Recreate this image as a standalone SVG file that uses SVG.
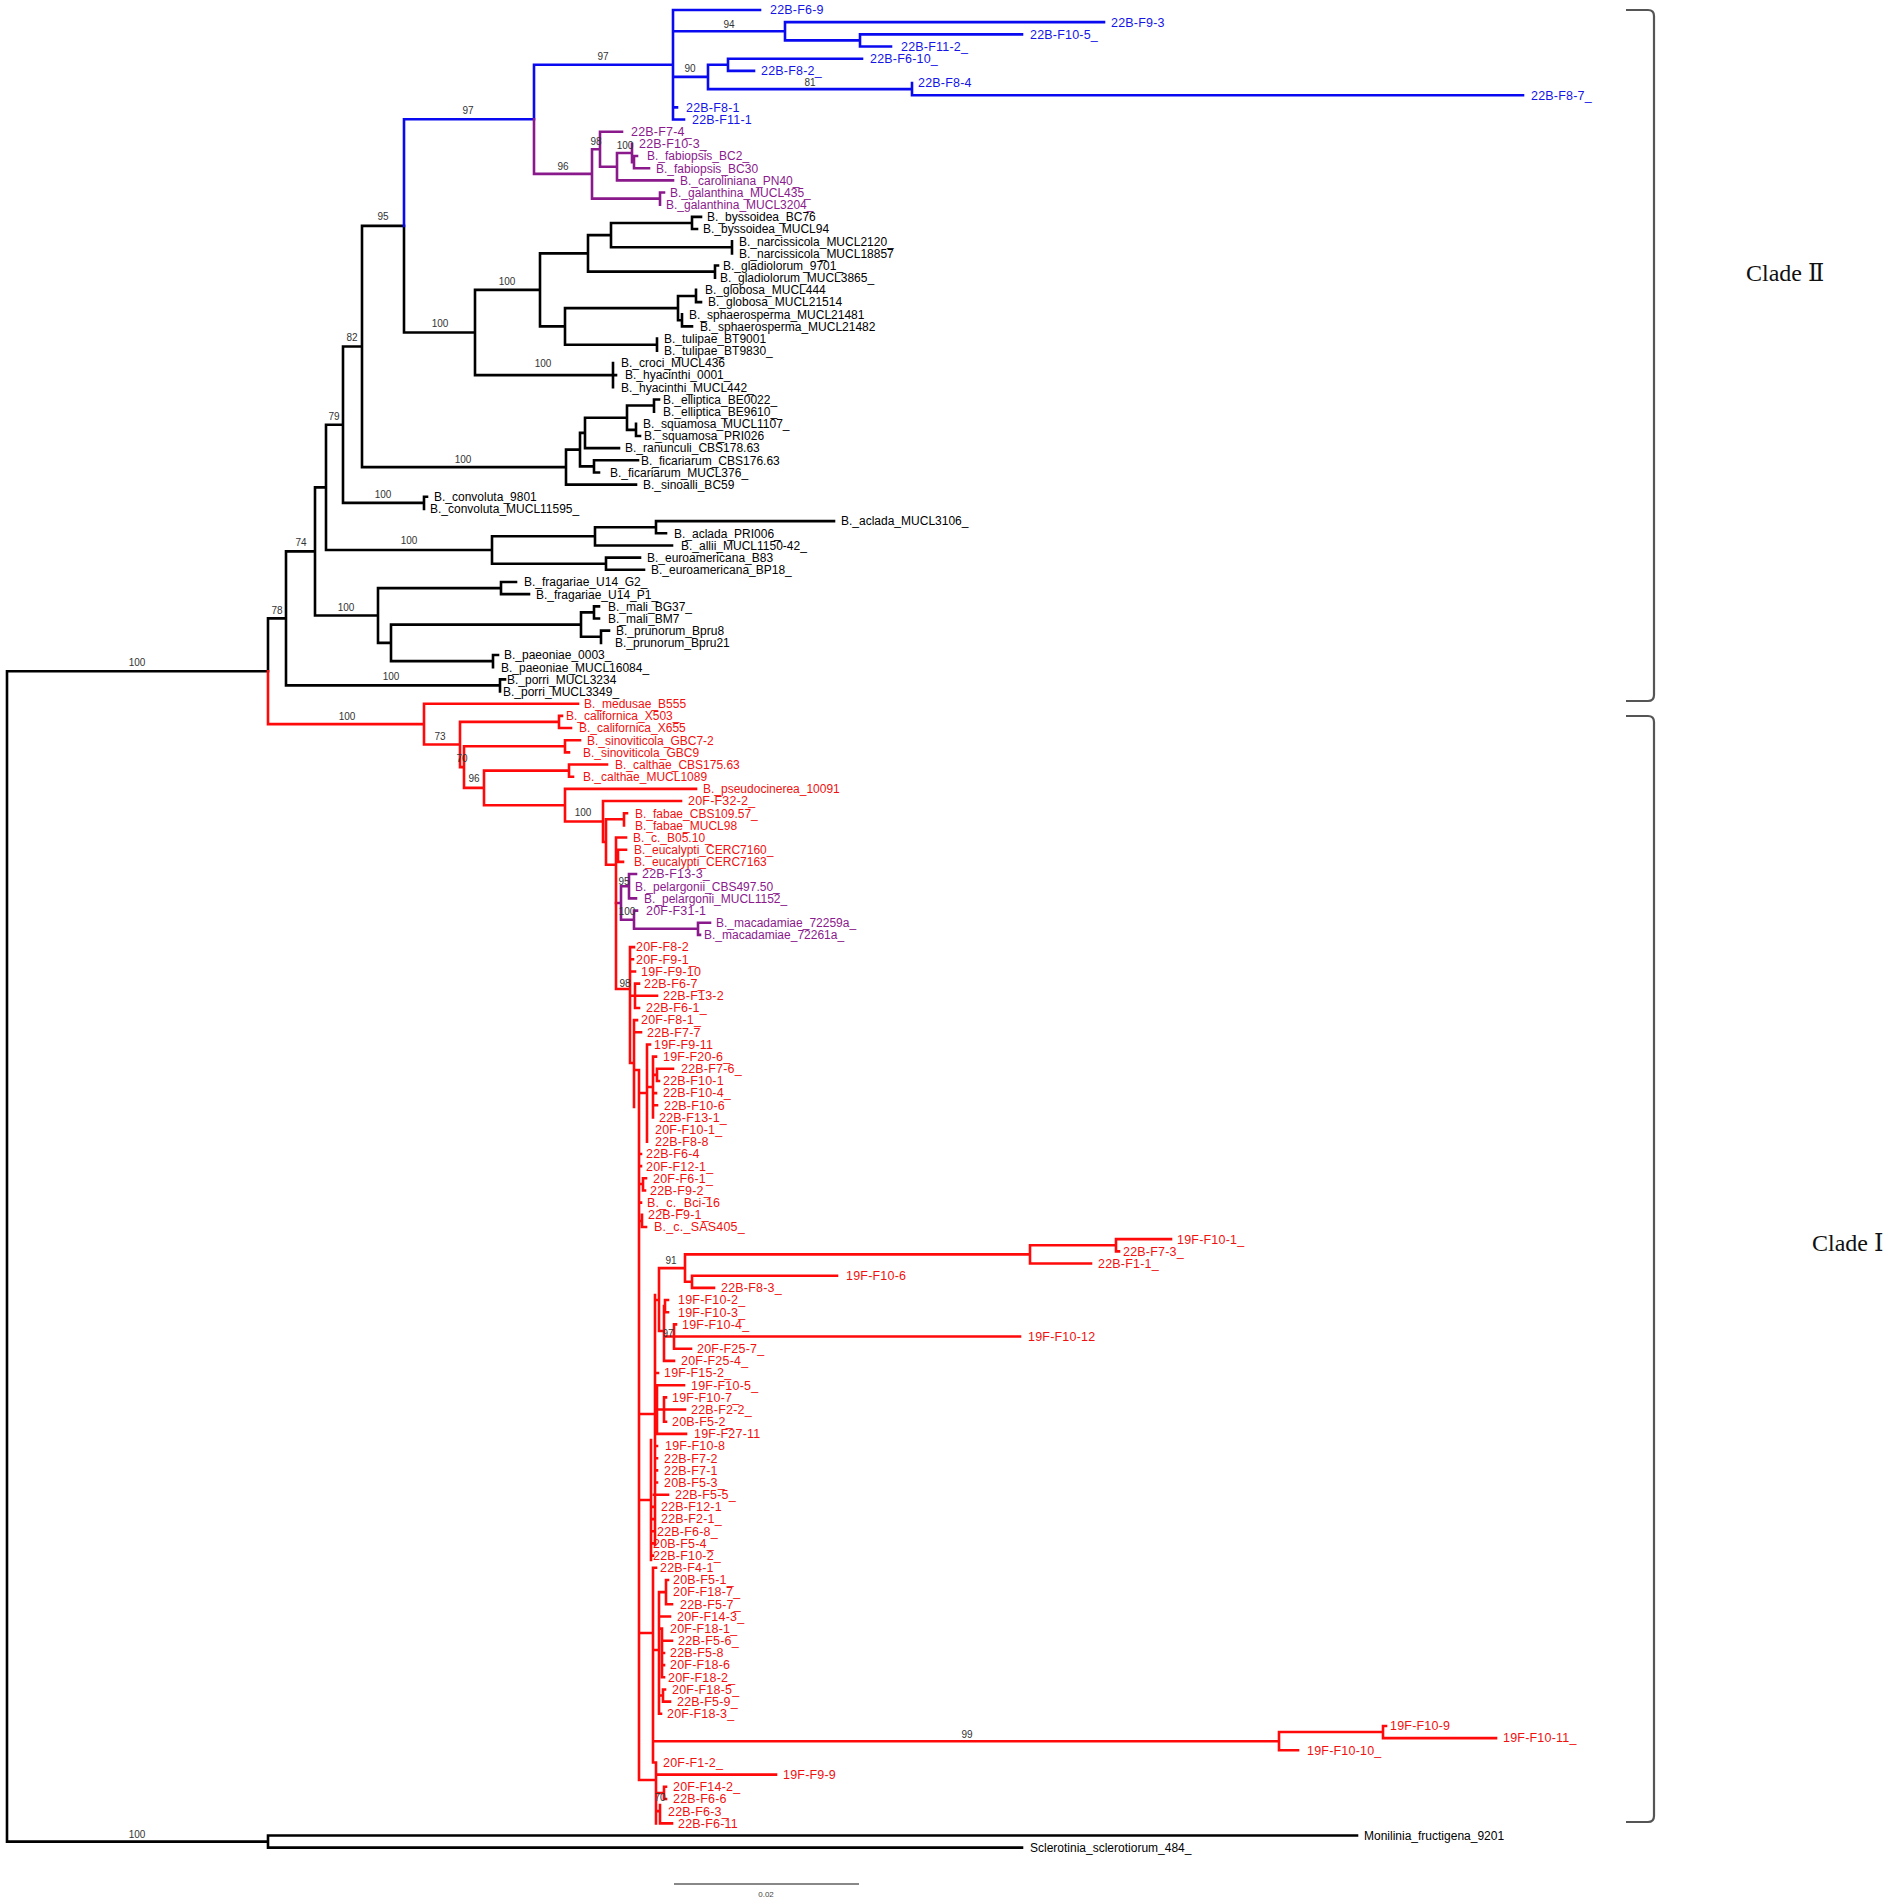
<svg xmlns="http://www.w3.org/2000/svg" width="1901" height="1902" viewBox="0 0 1901 1902">
<style>
.ln{fill:none;stroke-width:2.6;stroke-linecap:square;stroke-linejoin:miter}
.k{stroke:#000}.bl{stroke:#0a0af0}.pu{stroke:#8a1a8c}.rd{stroke:#ff0a0a}
text{font-family:"Liberation Sans",Arial,sans-serif}
.s{font-size:12px}
.c{font-size:12.5px;letter-spacing:.2px}
.tk{fill:#000}.tb{fill:#1414e6}.tp{fill:#8a1a8c}.tr{fill:#f01010}
.n{font-size:10px;fill:#333;text-anchor:middle}
.br{fill:none;stroke:#555;stroke-width:2.2}
.cl{font-family:"Liberation Serif","DejaVu Serif","Noto Sans CJK SC",serif;font-size:24px;fill:#111}
</style>
<rect width="1901" height="1902" fill="#fff"/>
<g id="connectors">
<path class="ln k" d="M7,671.25V1841.6 M7,671.25H268 M7,1841.6H268 M268,1835.5V1847.67 M268,1835.5H1357 M268,1847.67H1022 M268,618.4V671.25 M268,618.4H286 M286,551.4V685.4 M286,685.4H500 M500,679.35V691.52 M500,679.35H505 M286,551.4H315 M315,487.4V615.5 M315,615.5H378 M315,487.4H326 M326,424.7V550 M326,550H492 M326,424.7H343 M343,346.5V502.9 M343,502.9H424 M424,496.8V508.97 M424,496.8H427 M343,346.5H362 M362,225.9V467.1 M362,467.1H566 M362,225.9H404 M404,225.9V332.5H475 M475,289.9V375.1 M475,289.9H540 M475,375.1H613 M540,253.4V326.4 M540,253.4H588 M540,326.4H565 M588,235.15V271.66 M588,235.15H611 M588,271.66H715 M611,223V247.3 M611,223H692 M611,247.3H732 M692,216.89V229.06 M692,216.89H701 M692,229.06H697 M732,241.23V253.4 M715,265.57V277.74 M715,265.57H718 M565,308.15V344.7 M565,308.15H678 M565,344.7H657 M678,296V320.3 M678,296H696 M678,320.3H682 M696,289.91V302.08 M696,302.08H701 M682,314.25V326.42 M682,326.42H692 M657,338.59V350.76 M613,362.93V387.27 M613,375.1H616 M566,449.6V484.63 M566,449.6H580 M566,484.63H636 M580,432.9V466.4 M580,432.9H585 M580,466.4H594 M585,417.7V448.12 M585,417.7H627 M585,448.12H619 M627,405.5V429.9 M627,405.5H654 M627,429.9H636 M654,399.44V411.61 M654,399.44H659 M636,423.78V435.95 M636,435.95H640 M594,460.29V472.46 M594,460.29H638 M594,472.46H599 M492,536.3V563.7 M492,536.3H595 M492,563.7H606 M595,527.2V545.48 M595,527.2H656 M595,545.48H672 M656,521.14V533.31 M656,521.14H834 M656,533.31H666 M606,557.65V569.82 M606,557.65H640 M606,569.82H644 M378,588.1V642.85 M378,588.1H501 M378,642.85H391 M501,581.99V594.16 M501,581.99H516 M501,594.16H529 M391,624.6V661.1 M391,624.6H581 M391,661.1H493 M581,612.4V636.8 M581,612.4H594 M581,636.8H601 M594,606.33V618.5 M594,606.33H599 M594,618.5H599 M601,630.67V642.84 M601,630.67H609 M493,655.01V667.18 M493,655.01H498"/>
<path class="ln bl" d="M404,225.9V119.3H534 M534,119.3V64.77H673 M673,10V119.53 M673,10H760 M673,31.3H785 M673,76.9H708 M673,107.36H677 M673,119.53H684 M785,22.17V40.4 M785,22.17H1104 M785,40.4H860 M860,34.34V46.51 M860,34.34H1022 M860,46.51H891 M708,64.8V89.1 M708,64.8H728 M708,89.1H912 M728,58.68V70.85 M728,58.68H862 M728,70.85H754 M912,83.02V95.19 M912,95.19H1523"/>
<path class="ln pu" d="M534,119.3V173.9H592 M592,149.2V198.6 M592,149.2H600 M592,198.6H660 M600,131.7V166.7 M600,131.7H622 M600,166.7H617 M617,153V180.38 M617,153H632 M617,180.38H673 M632,143.87V162.1H634 M634,156.04V168.21 M634,156.04H637 M634,168.21H649 M660,192.55V204.72 M660,192.55H664 M616,903H621 M621,886.2V919.7 M621,886.2H629 M629,874.07V898.41 M629,874.07H636 M629,898.41H636 M621,919.7H634 M634,910.58V928.8 M634,910.58H637 M634,928.8H698 M698,922.75V934.92 M698,922.75H710 M698,934.92H700"/>
<path class="ln rd" d="M268,671.25V724.1H424 M424,703.69V744.5 M424,703.69H578 M424,744.5H460 M460,721.9V767.1 M460,721.9H559 M460,767.1H464 M559,715.86V728.03 M559,715.86H562 M559,728.03H571 M464,746.3V787.9 M464,746.3H565 M464,787.9H484 M565,740.2V752.37 M565,740.2H580 M565,752.37H569 M484,770.6V805.2 M484,770.6H569 M484,805.2H565 M569,764.54V776.71 M569,764.54H607 M569,776.71H573 M565,788.88V821.5 M565,788.88H696 M565,821.5H603 M603,801.05V842 M603,801.05H681 M603,842H606 M606,819.3V864.7 M606,819.3H624 M606,864.7H616 M624,813.22V825.39 M624,813.22H627 M616,837.56V989 M616,837.56H626 M616,855.8H618 M618,849.73V861.9 M618,849.73H626 M618,861.9H623 M616,989H630 M630,947.09V1063 M630,947.09H634 M630,959.26H633 M630,971.43H635 M635,983.6V1007.94 M635,983.6H639 M630,995.77H657 M635,1007.94H639 M630,1063H634 M634,1020.11V1107 M634,1020.11H637 M634,1032.28H641 M634,1070H639 M639,1070V1780 M639,1093H647 M647,1044.45V1141.81 M647,1044.45H650 M647,1087H653 M653,1056.62V1117.47 M653,1056.62H656 M653,1093.13H656 M653,1105.3H657 M653,1074.9H657 M657,1068.79V1080.96 M657,1068.79H673 M657,1080.96H659 M639,1153.98H641 M639,1166.15H641 M639,1184H643 M643,1178.32V1190.49 M643,1178.32H646 M643,1190.49H645 M639,1202.66H641 M639,1221H642 M642,1214.83V1227 M642,1227H646 M639,1414H655 M655,1295V1545 M655,1300H659 M659,1268.1V1331 M659,1268.1H685 M685,1254.4V1281.8 M685,1254.4H1030 M685,1281.8H692 M1030,1245.3V1263.51 M1030,1245.3H1116 M1030,1263.51H1091 M1116,1239.17V1251.34 M1116,1239.17H1171 M1116,1251.34H1119 M692,1275.68V1287.85 M692,1275.68H837 M692,1287.85H714 M659,1331H664 M664,1306.1V1360.87 M664,1306.1H665 M665,1300.02V1312.19 M665,1300.02H668 M665,1312.19H668 M664,1336.53H674 M674,1324.36V1348.7 M674,1324.36H676 M674,1336.53H1020 M674,1348.7H691 M664,1360.87H674 M655,1373.04H658 M657,1385.21V1433.89 M657,1385.21H684 M657,1433.89H686 M664,1397.38V1421.72 M664,1397.38H666 M657,1409.55H685 M664,1421.72H666 M655,1446.06H657 M655,1458.23H657 M655,1470.4H657 M655,1482.57H657 M639,1500H651 M651,1440V1560 M654,1494.74H668 M651,1506.91H655 M651,1519.08H655 M651,1531.25H654 M651,1543.42H653 M651,1555.59H653 M639,1633H653 M653,1567.76V1762.48 M653,1567.76H656 M653,1650H659 M659,1592.1V1713.8 M659,1592.1H666 M666,1579.93V1604.27 M666,1579.93H668 M666,1604.27H672 M659,1616.44H670 M659,1628.61H662 M662,1628.61V1677.29 M662,1640.78H672 M662,1652.95H664 M662,1665.12H664 M662,1677.29H664 M659,1695.5H663 M663,1689.46V1701.63 M663,1689.46H665 M663,1701.63H670 M659,1713.8H661 M653,1741.2H1279 M1279,1732.06V1750.31 M1279,1732.06H1383 M1279,1750.31H1298 M1383,1725.97V1738.14 M1383,1725.97H1386 M1383,1738.14H1496 M639,1780H656 M653,1762.48H656 M656,1762.48V1823.33 M656,1774.65H776 M656,1793H664 M664,1786.82V1798.99 M664,1786.82H666 M664,1798.99H666 M656,1811.16H660 M660,1805V1823.33 M660,1823.33H672"/>
</g>
<g id="support-values">
<text class="n" x="603" y="60">97</text><text class="n" x="468" y="114">97</text><text class="n" x="729" y="28">94</text><text class="n" x="690" y="72">90</text><text class="n" x="810" y="86">81</text>
<text class="n" x="563" y="170">96</text><text class="n" x="596" y="145">98</text><text class="n" x="625" y="149">100</text>
<text class="n" x="383" y="220">95</text><text class="n" x="440" y="327">100</text><text class="n" x="507" y="285">100</text><text class="n" x="543" y="367">100</text><text class="n" x="352" y="341">82</text><text class="n" x="334" y="420">79</text><text class="n" x="301" y="546">74</text><text class="n" x="277" y="614">78</text><text class="n" x="463" y="463">100</text><text class="n" x="383" y="498">100</text><text class="n" x="409" y="544">100</text><text class="n" x="346" y="611">100</text><text class="n" x="391" y="680">100</text><text class="n" x="137" y="666">100</text>
<text class="n" x="347" y="720">100</text><text class="n" x="440" y="740">73</text><text class="n" x="462" y="762">70</text><text class="n" x="474" y="782">96</text><text class="n" x="583" y="816">100</text><text class="n" x="624" y="885">95</text><text class="n" x="627" y="915">100</text><text class="n" x="625" y="987">98</text><text class="n" x="671" y="1264">91</text><text class="n" x="668" y="1337">97</text><text class="n" x="967" y="1738">99</text><text class="n" x="660" y="1801">70</text><text class="n" x="137" y="1838">100</text>
</g>
<g id="leaves">
<g id="L1"><text class="c tb" x="770" y="14.3">22B-F6-9</text></g>
<g id="L2"><text class="c tb" x="1111" y="26.5">22B-F9-3</text></g>
<g id="L3"><text class="c tb" x="1030" y="38.6">22B-F10-5_</text></g>
<g id="L4"><text class="c tb" x="901" y="50.8">22B-F11-2_</text></g>
<g id="L5"><text class="c tb" x="870" y="63">22B-F6-10_</text></g>
<g id="L6"><text class="c tb" x="761" y="75.2">22B-F8-2_</text></g>
<g id="L7"><text class="c tb" x="918" y="87.3">22B-F8-4</text></g>
<g id="L8"><text class="c tb" x="1531" y="99.5">22B-F8-7_</text></g>
<g id="L9"><text class="c tb" x="686" y="111.7">22B-F8-1</text></g>
<g id="L10"><text class="c tb" x="692" y="123.8">22B-F11-1</text></g>
<g id="L11"><text class="c tp" x="631" y="136">22B-F7-4_</text></g>
<g id="L12"><text class="c tp" x="639" y="148.2">22B-F10-3_</text></g>
<g id="L13"><text class="s tp" x="647" y="160.3">B._fabiopsis_BC2_</text></g>
<g id="L14"><text class="s tp" x="656" y="172.5">B._fabiopsis_BC30</text></g>
<g id="L15"><text class="s tp" x="680" y="184.7">B._caroliniana_PN40_</text></g>
<g id="L16"><text class="s tp" x="670" y="196.9">B._galanthina_MUCL435_</text></g>
<g id="L17"><text class="s tp" x="666" y="209">B._galanthina_MUCL3204_</text></g>
<g id="L18"><text class="s tk" x="707" y="221.2">B._byssoidea_BC76</text></g>
<g id="L19"><text class="s tk" x="703" y="233.4">B._byssoidea_MUCL94</text></g>
<g id="L20"><text class="s tk" x="739" y="245.5">B._narcissicola_MUCL2120_</text></g>
<g id="L21"><text class="s tk" x="739" y="257.7">B._narcissicola_MUCL18857</text></g>
<g id="L22"><text class="s tk" x="723" y="269.9">B._gladiolorum_9701_</text></g>
<g id="L23"><text class="s tk" x="720" y="282">B._gladiolorum_MUCL3865_</text></g>
<g id="L24"><text class="s tk" x="705" y="294.2">B._globosa_MUCL444</text></g>
<g id="L25"><text class="s tk" x="708" y="306.4">B._globosa_MUCL21514</text></g>
<g id="L26"><text class="s tk" x="689" y="318.6">B._sphaerosperma_MUCL21481</text></g>
<g id="L27"><text class="s tk" x="700" y="330.7">B._sphaerosperma_MUCL21482</text></g>
<g id="L28"><text class="s tk" x="664" y="342.9">B._tulipae_BT9001</text></g>
<g id="L29"><text class="s tk" x="664" y="355.1">B._tulipae_BT9830_</text></g>
<g id="L30"><text class="s tk" x="621" y="367.2">B._croci_MUCL436</text></g>
<g id="L31"><text class="s tk" x="625" y="379.4">B._hyacinthi_0001_</text></g>
<g id="L32"><text class="s tk" x="621" y="391.6">B._hyacinthi_MUCL442_</text></g>
<g id="L33"><text class="s tk" x="663" y="403.7">B._elliptica_BE0022_</text></g>
<g id="L34"><text class="s tk" x="663" y="415.9">B._elliptica_BE9610_</text></g>
<g id="L35"><text class="s tk" x="643" y="428.1">B._squamosa_MUCL1107_</text></g>
<g id="L36"><text class="s tk" x="644" y="440.3">B._squamosa_PRI026</text></g>
<g id="L37"><text class="s tk" x="625" y="452.4">B._ranunculi_CBS178.63</text></g>
<g id="L38"><text class="s tk" x="641" y="464.6">B._ficariarum_CBS176.63</text></g>
<g id="L39"><text class="s tk" x="610" y="476.8">B._ficariarum_MUCL376_</text></g>
<g id="L40"><text class="s tk" x="643" y="488.9">B._sinoalli_BC59</text></g>
<g id="L41"><text class="s tk" x="434" y="501.1">B._convoluta_9801</text></g>
<g id="L42"><text class="s tk" x="430" y="513.3">B._convoluta_MUCL11595_</text></g>
<g id="L43"><text class="s tk" x="841" y="525.4">B._aclada_MUCL3106_</text></g>
<g id="L44"><text class="s tk" x="674" y="537.6">B._aclada_PRI006_</text></g>
<g id="L45"><text class="s tk" x="681" y="549.8">B._allii_MUCL1150-42_</text></g>
<g id="L46"><text class="s tk" x="647" y="562">B._euroamericana_B83</text></g>
<g id="L47"><text class="s tk" x="651" y="574.1">B._euroamericana_BP18_</text></g>
<g id="L48"><text class="s tk" x="524" y="586.3">B._fragariae_U14_G2_</text></g>
<g id="L49"><text class="s tk" x="536" y="598.5">B._fragariae_U14_P1_</text></g>
<g id="L50"><text class="s tk" x="608" y="610.6">B._mali_BG37_</text></g>
<g id="L51"><text class="s tk" x="608" y="622.8">B._mali_BM7</text></g>
<g id="L52"><text class="s tk" x="616" y="635">B._prunorum_Bpru8</text></g>
<g id="L53"><text class="s tk" x="615" y="647.1">B._prunorum_Bpru21</text></g>
<g id="L54"><text class="s tk" x="504" y="659.3">B._paeoniae_0003_</text></g>
<g id="L55"><text class="s tk" x="501" y="671.5">B._paeoniae_MUCL16084_</text></g>
<g id="L56"><text class="s tk" x="507" y="683.7">B._porri_MUCL3234</text></g>
<g id="L57"><text class="s tk" x="503" y="695.8">B._porri_MUCL3349_</text></g>
<g id="L58"><text class="s tr" x="584" y="708">B._medusae_B555</text></g>
<g id="L59"><text class="s tr" x="566" y="720.2">B._californica_X503_</text></g>
<g id="L60"><text class="s tr" x="579" y="732.3">B._californica_X655</text></g>
<g id="L61"><text class="s tr" x="587" y="744.5">B._sinoviticola_GBC7-2</text></g>
<g id="L62"><text class="s tr" x="583" y="756.7">B._sinoviticola_GBC9</text></g>
<g id="L63"><text class="s tr" x="615" y="768.8">B._calthae_CBS175.63</text></g>
<g id="L64"><text class="s tr" x="583" y="781">B._calthae_MUCL1089</text></g>
<g id="L65"><text class="s tr" x="703" y="793.2">B._pseudocinerea_10091</text></g>
<g id="L66"><text class="c tr" x="688" y="805.4">20F-F32-2_</text></g>
<g id="L67"><text class="s tr" x="635" y="817.5">B._fabae_CBS109.57_</text></g>
<g id="L68"><text class="s tr" x="635" y="829.7">B._fabae_MUCL98</text></g>
<g id="L69"><text class="s tr" x="633" y="841.9">B._c._B05.10_</text></g>
<g id="L70"><text class="s tr" x="634" y="854">B._eucalypti_CERC7160_</text></g>
<g id="L71"><text class="s tr" x="634" y="866.2">B._eucalypti_CERC7163</text></g>
<g id="L72"><text class="c tp" x="642" y="878.4">22B-F13-3_</text></g>
<g id="L73"><text class="s tp" x="635" y="890.5">B._pelargonii_CBS497.50_</text></g>
<g id="L74"><text class="s tp" x="644" y="902.7">B._pelargonii_MUCL1152_</text></g>
<g id="L75"><text class="c tp" x="646" y="914.9">20F-F31-1</text></g>
<g id="L76"><text class="s tp" x="716" y="927.1">B._macadamiae_72259a_</text></g>
<g id="L77"><text class="s tp" x="704" y="939.2">B._macadamiae_72261a_</text></g>
<g id="L78"><text class="c tr" x="636" y="951.4">20F-F8-2</text></g>
<g id="L79"><text class="c tr" x="636" y="963.6">20F-F9-1_</text></g>
<g id="L80"><text class="c tr" x="641" y="975.7">19F-F9-10</text></g>
<g id="L81"><text class="c tr" x="644" y="987.9">22B-F6-7_</text></g>
<g id="L82"><text class="c tr" x="663" y="1000.1">22B-F13-2</text></g>
<g id="L83"><text class="c tr" x="646" y="1012.2">22B-F6-1_</text></g>
<g id="L84"><text class="c tr" x="641" y="1024.4">20F-F8-1_</text></g>
<g id="L85"><text class="c tr" x="647" y="1036.6">22B-F7-7</text></g>
<g id="L86"><text class="c tr" x="654" y="1048.8">19F-F9-11</text></g>
<g id="L87"><text class="c tr" x="663" y="1060.9">19F-F20-6_</text></g>
<g id="L88"><text class="c tr" x="681" y="1073.1">22B-F7-6_</text></g>
<g id="L89"><text class="c tr" x="663" y="1085.3">22B-F10-1</text></g>
<g id="L90"><text class="c tr" x="663" y="1097.4">22B-F10-4_</text></g>
<g id="L91"><text class="c tr" x="664" y="1109.6">22B-F10-6</text></g>
<g id="L92"><text class="c tr" x="659" y="1121.8">22B-F13-1_</text></g>
<g id="L93"><text class="c tr" x="655" y="1133.9">20F-F10-1_</text></g>
<g id="L94"><text class="c tr" x="655" y="1146.1">22B-F8-8</text></g>
<g id="L95"><text class="c tr" x="646" y="1158.3">22B-F6-4</text></g>
<g id="L96"><text class="c tr" x="646" y="1170.5">20F-F12-1_</text></g>
<g id="L97"><text class="c tr" x="653" y="1182.6">20F-F6-1_</text></g>
<g id="L98"><text class="c tr" x="650" y="1194.8">22B-F9-2_</text></g>
<g id="L99"><text class="c tr" x="647" y="1207">B._c._Bci-16</text></g>
<g id="L100"><text class="c tr" x="648" y="1219.1">22B-F9-1_</text></g>
<g id="L101"><text class="c tr" x="654" y="1231.3">B._c._SAS405_</text></g>
<g id="L102"><text class="c tr" x="1177" y="1243.5">19F-F10-1_</text></g>
<g id="L103"><text class="c tr" x="1123" y="1255.6">22B-F7-3_</text></g>
<g id="L104"><text class="c tr" x="1098" y="1267.8">22B-F1-1_</text></g>
<g id="L105"><text class="c tr" x="846" y="1280">19F-F10-6</text></g>
<g id="L106"><text class="c tr" x="721" y="1292.2">22B-F8-3_</text></g>
<g id="L107"><text class="c tr" x="678" y="1304.3">19F-F10-2_</text></g>
<g id="L108"><text class="c tr" x="678" y="1316.5">19F-F10-3_</text></g>
<g id="L109"><text class="c tr" x="682" y="1328.7">19F-F10-4_</text></g>
<g id="L110"><text class="c tr" x="1028" y="1340.8">19F-F10-12</text></g>
<g id="L111"><text class="c tr" x="697" y="1353">20F-F25-7_</text></g>
<g id="L112"><text class="c tr" x="681" y="1365.2">20F-F25-4_</text></g>
<g id="L113"><text class="c tr" x="664" y="1377.3">19F-F15-2_</text></g>
<g id="L114"><text class="c tr" x="691" y="1389.5">19F-F10-5_</text></g>
<g id="L115"><text class="c tr" x="672" y="1401.7">19F-F10-7_</text></g>
<g id="L116"><text class="c tr" x="691" y="1413.9">22B-F2-2_</text></g>
<g id="L117"><text class="c tr" x="672" y="1426">20B-F5-2_</text></g>
<g id="L118"><text class="c tr" x="694" y="1438.2">19F-F27-11</text></g>
<g id="L119"><text class="c tr" x="665" y="1450.4">19F-F10-8</text></g>
<g id="L120"><text class="c tr" x="664" y="1462.5">22B-F7-2</text></g>
<g id="L121"><text class="c tr" x="664" y="1474.7">22B-F7-1</text></g>
<g id="L122"><text class="c tr" x="664" y="1486.9">20B-F5-3_</text></g>
<g id="L123"><text class="c tr" x="675" y="1499">22B-F5-5_</text></g>
<g id="L124"><text class="c tr" x="661" y="1511.2">22B-F12-1</text></g>
<g id="L125"><text class="c tr" x="661" y="1523.4">22B-F2-1_</text></g>
<g id="L126"><text class="c tr" x="657" y="1535.6">22B-F6-8_</text></g>
<g id="L127"><text class="c tr" x="653" y="1547.7">20B-F5-4_</text></g>
<g id="L128"><text class="c tr" x="653" y="1559.9">22B-F10-2_</text></g>
<g id="L129"><text class="c tr" x="660" y="1572.1">22B-F4-1</text></g>
<g id="L130"><text class="c tr" x="673" y="1584.2">20B-F5-1_</text></g>
<g id="L131"><text class="c tr" x="673" y="1596.4">20F-F18-7_</text></g>
<g id="L132"><text class="c tr" x="680" y="1608.6">22B-F5-7_</text></g>
<g id="L133"><text class="c tr" x="677" y="1620.7">20F-F14-3_</text></g>
<g id="L134"><text class="c tr" x="670" y="1632.9">20F-F18-1_</text></g>
<g id="L135"><text class="c tr" x="678" y="1645.1">22B-F5-6_</text></g>
<g id="L136"><text class="c tr" x="670" y="1657.3">22B-F5-8</text></g>
<g id="L137"><text class="c tr" x="670" y="1669.4">20F-F18-6</text></g>
<g id="L138"><text class="c tr" x="668" y="1681.6">20F-F18-2_</text></g>
<g id="L139"><text class="c tr" x="672" y="1693.8">20F-F18-5_</text></g>
<g id="L140"><text class="c tr" x="677" y="1705.9">22B-F5-9_</text></g>
<g id="L141"><text class="c tr" x="667" y="1718.1">20F-F18-3_</text></g>
<g id="L142"><text class="c tr" x="1390" y="1730.3">19F-F10-9</text></g>
<g id="L143"><text class="c tr" x="1503" y="1742.4">19F-F10-11_</text></g>
<g id="L144"><text class="c tr" x="1307" y="1754.6">19F-F10-10_</text></g>
<g id="L145"><text class="c tr" x="663" y="1766.8">20F-F1-2_</text></g>
<g id="L146"><text class="c tr" x="783" y="1779">19F-F9-9</text></g>
<g id="L147"><text class="c tr" x="673" y="1791.1">20F-F14-2_</text></g>
<g id="L148"><text class="c tr" x="673" y="1803.3">22B-F6-6</text></g>
<g id="L149"><text class="c tr" x="668" y="1815.5">22B-F6-3_</text></g>
<g id="L150"><text class="c tr" x="678" y="1827.6">22B-F6-11</text></g>
<g id="L151"><text class="s tk" x="1364" y="1839.8">Monilinia_fructigena_9201</text></g>
<g id="L152"><text class="s tk" x="1030" y="1852">Sclerotinia_sclerotiorum_484_</text></g>
</g>
<g id="clades">
<path class="br" d="M1626,10H1648Q1654,10 1654,16V695Q1654,701 1648,701H1626"/>
<path class="br" d="M1626,716H1648Q1654,716 1654,722V1816Q1654,1822 1648,1822H1626"/>
<text class="cl" x="1746" y="281">Clade Ⅱ</text>
<text class="cl" x="1812" y="1251">Clade Ⅰ</text>
</g>
<g id="scale-bar">
<path d="M674,1884H859" stroke="#888" stroke-width="2" fill="none"/>
<text x="766" y="1897" font-size="8" fill="#444" text-anchor="middle">0.02</text>
</g>
</svg>
